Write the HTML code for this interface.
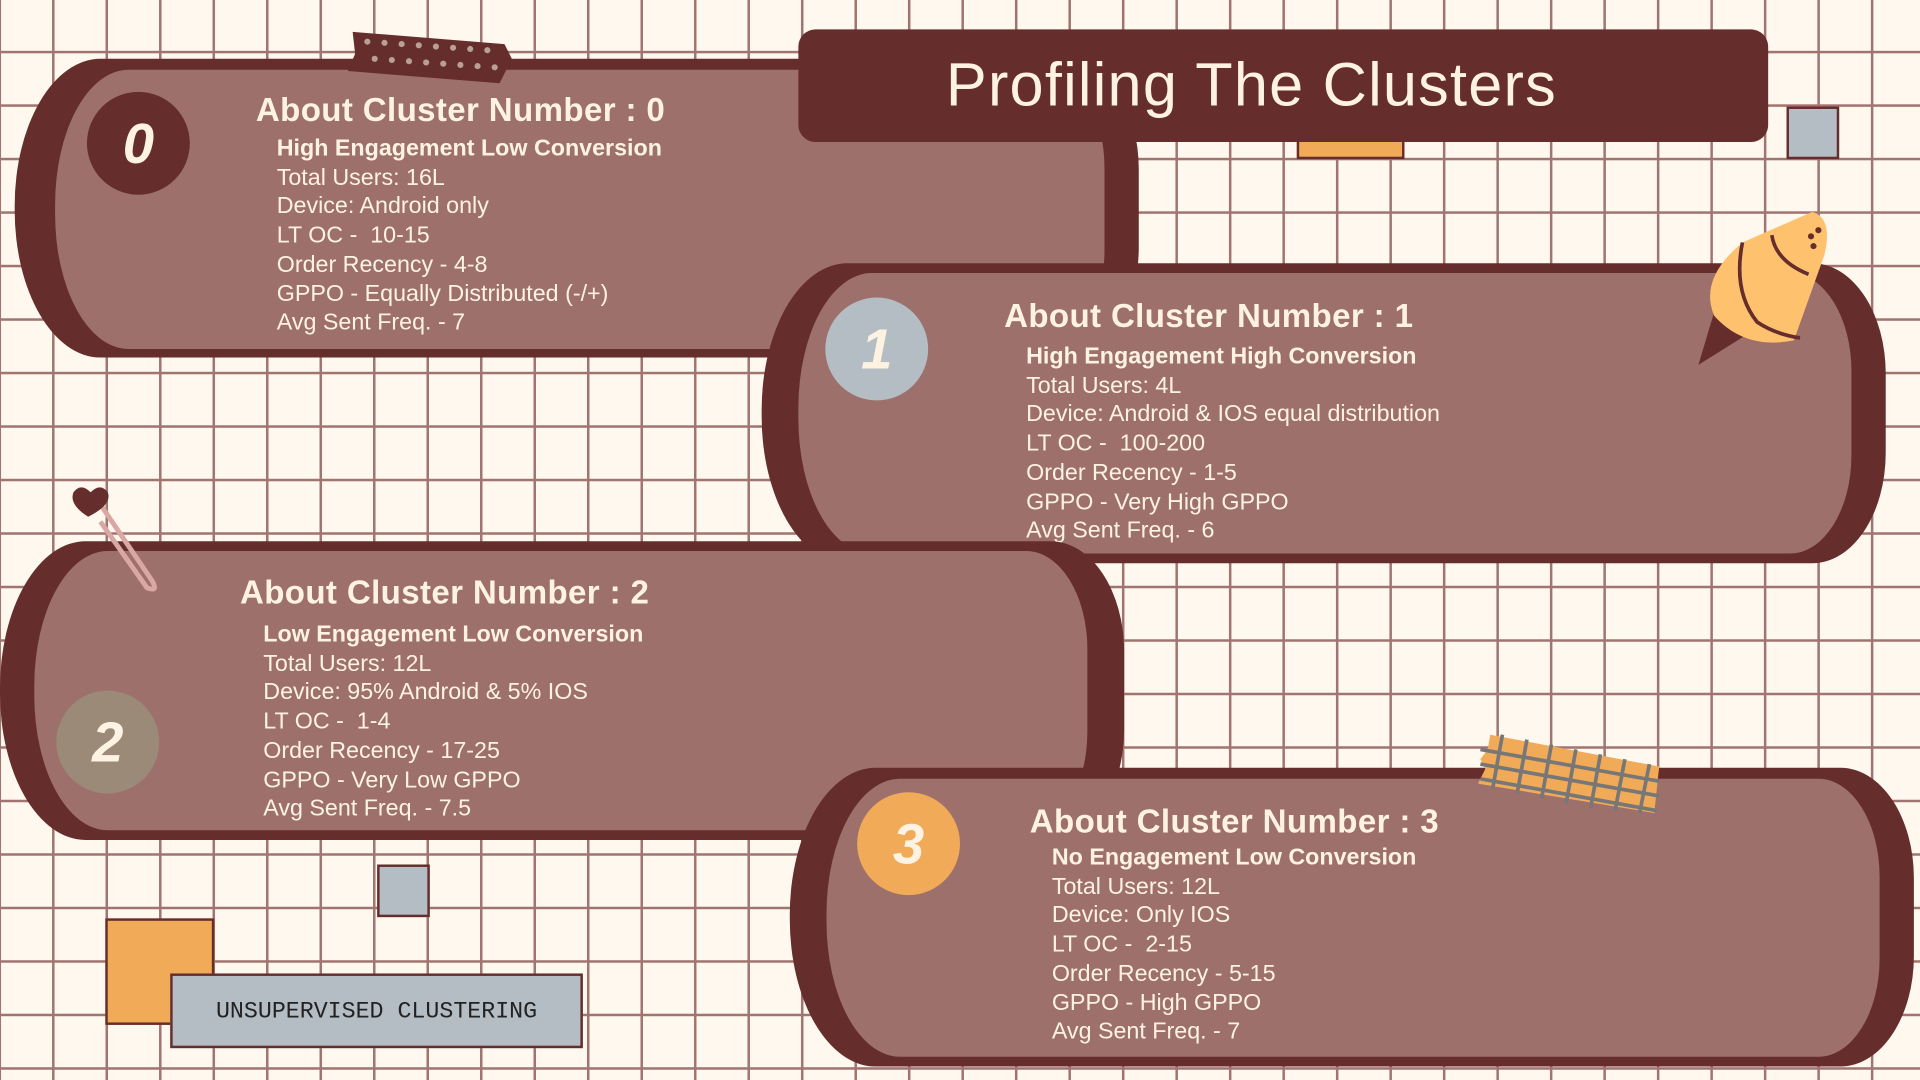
<!DOCTYPE html>
<html><head><meta charset="utf-8">
<style>
html,body{margin:0;padding:0;width:1920px;height:1080px;overflow:hidden;background:#fef8ee;}
#stage{position:absolute;left:0;top:0;width:1568px;height:882px;transform:scale(1.22449);transform-origin:0 0;
 background-color:#fef8ee;
 background-image:linear-gradient(to right,#a07470 2px,transparent 2px),linear-gradient(to bottom,#a07470 2px,transparent 2px);
 background-size:43.7px 43.7px;background-position:42.5px 41.5px;font-family:"Liberation Sans",sans-serif;}
.abs{position:absolute;}
.outer{position:absolute;background:#662d2d;border-radius:70px 60px 60px 70px/ 120px 90px 90px 120px;}
.inner{position:absolute;background:#9e706c;border-radius:60px 50px 50px 60px/110px 80px 80px 110px;}
.circle{position:absolute;width:84px;height:84px;border-radius:50%;display:flex;align-items:center;justify-content:center;font:italic bold 46px "Liberation Sans",sans-serif;color:#fef3e2;}
.title{position:absolute;color:#fef3e2;font:bold 27px "Liberation Sans",sans-serif;letter-spacing:0.3px;white-space:nowrap;}
.lines{position:absolute;color:#fef3e2;font-size:19px;line-height:23.7px;white-space:nowrap;}
.lines b{font-weight:bold;}
</style></head><body>
<div id="stage">

<div class="abs" style="left:1059px;top:108px;width:88px;height:22px;background:#f0aa58;border:2px solid #662d2d;box-sizing:border-box"></div>
<div class="abs" style="left:1459px;top:87px;width:43px;height:43px;background:#b4bcc4;border:2px solid #662d2d;box-sizing:border-box"></div>

<!-- card 0 -->
<div class="outer" style="left:12px;top:48px;width:918px;height:244px"></div>
<div class="inner" style="left:45px;top:57px;width:857px;height:228px"></div>
<div class="circle" style="left:71px;top:75px;background:#662d2d">0</div>
<div class="title" style="left:209px;top:75px">About Cluster Number : 0</div>
<div class="lines" style="left:226px;top:110px"><b>High Engagement Low Conversion</b><br>Total Users: 16L<br>Device: Android only<br>LT OC -&nbsp; 10-15<br>Order Recency - 4-8<br>GPPO - Equally Distributed (-/+)<br>Avg Sent Freq. - 7</div>

<svg class="abs" style="left:280px;top:22px" width="140" height="50"><polygon points="8,4 132,14 138,26 128,46 4,36 10,22" fill="#662d2d"/><g fill="#b8a094"><circle cx="20" cy="12" r="2.5"/><circle cx="34" cy="13" r="2.5"/><circle cx="48" cy="14" r="2.5"/><circle cx="62" cy="15" r="2.5"/><circle cx="76" cy="16" r="2.5"/><circle cx="90" cy="17" r="2.5"/><circle cx="104" cy="18" r="2.5"/><circle cx="118" cy="19" r="2.5"/><circle cx="26" cy="26" r="2.5"/><circle cx="40" cy="27" r="2.5"/><circle cx="54" cy="28" r="2.5"/><circle cx="68" cy="29" r="2.5"/><circle cx="82" cy="30" r="2.5"/><circle cx="96" cy="31" r="2.5"/><circle cx="110" cy="32" r="2.5"/><circle cx="124" cy="33" r="2.5"/></g></svg>

<!-- banner -->
<div class="abs" style="left:652px;top:24px;width:792px;height:92px;background:#662d2d;border-radius:14px"></div>
<div class="abs" style="left:652px;top:40px;width:740px;text-align:center;color:#fef3e2;font-size:50px;letter-spacing:1px">Profiling The Clusters</div>

<!-- card 1 -->
<div class="outer" style="left:622px;top:215px;width:918px;height:245px"></div>
<div class="inner" style="left:652px;top:223px;width:860px;height:229px"></div>
<div class="circle" style="left:674px;top:243px;background:#b4bcc4">1</div>
<div class="title" style="left:820px;top:243px">About Cluster Number : 1</div>
<div class="lines" style="left:838px;top:280px"><b>High Engagement High Conversion</b><br>Total Users: 4L<br>Device: Android &amp; IOS equal distribution<br>LT OC -&nbsp; 100-200<br>Order Recency - 1-5<br>GPPO - Very High GPPO<br>Avg Sent Freq. - 6</div>

<svg class="abs" style="left:1385px;top:168px" width="120" height="135"><polygon points="20,70 2,130 50,100" fill="#662d2d"/><path d="M38,30 L95,5 Q112,10 105,40 L80,110 Q40,118 15,90 Q2,60 38,30Z" fill="#fec16e"/><path d="M38,30 Q30,70 50,95 Q65,105 85,108" stroke="#662d2d" stroke-width="3" fill="none"/><path d="M62,24 Q65,45 92,56" stroke="#662d2d" stroke-width="3" fill="none"/><circle cx="100" cy="20" r="2.5" fill="#662d2d"/><circle cx="94" cy="25" r="2.5" fill="#662d2d"/><circle cx="96" cy="33" r="2.5" fill="#662d2d"/></svg>

<!-- card 2 -->
<div class="outer" style="left:0px;top:442px;width:918px;height:244px"></div>
<div class="inner" style="left:28px;top:450px;width:860px;height:228px"></div>
<div class="circle" style="left:46px;top:564px;background:#9b8a78">2</div>
<div class="title" style="left:196px;top:469px">About Cluster Number : 2</div>
<div class="lines" style="left:215px;top:507px"><b>Low Engagement Low Conversion</b><br>Total Users: 12L<br>Device: 95% Android &amp; 5% IOS<br>LT OC -&nbsp; 1-4<br>Order Recency - 17-25<br>GPPO - Very Low GPPO<br>Avg Sent Freq. - 7.5</div>

<svg class="abs" style="left:52px;top:392px" width="80" height="95"><path d="M30,20 L72,82 Q78,92 68,88 L30,34" stroke="#d9a8a4" stroke-width="4" fill="none"/><path d="M20,30 Q4,20 8,10 Q14,2 22,10 Q30,2 36,10 Q40,20 20,30Z" fill="#662d2d"/></svg>

<!-- card 3 -->
<div class="outer" style="left:645px;top:627px;width:918px;height:244px"></div>
<div class="inner" style="left:675px;top:636px;width:860px;height:227px"></div>
<div class="circle" style="left:700px;top:647px;background:#f0aa58">3</div>
<div class="title" style="left:841px;top:656px">About Cluster Number : 3</div>
<div class="lines" style="left:859px;top:689px"><b>No Engagement Low Conversion</b><br>Total Users: 12L<br>Device: Only IOS<br>LT OC -&nbsp; 2-15<br>Order Recency - 5-15<br>GPPO - High GPPO<br>Avg Sent Freq. - 7</div>

<svg class="abs" style="left:1205px;top:598px" width="155" height="70"><polygon points="12,2 150,28 146,66 2,42 8,30 4,22 10,14" fill="#f0aa58"/><g stroke="#777" stroke-width="3"><line x1="4" y1="14" x2="150" y2="40"/><line x1="4" y1="26" x2="150" y2="52"/><line x1="4" y1="38" x2="148" y2="64"/><line x1="22" y1="2" x2="14" y2="46"/><line x1="42" y1="6" x2="34" y2="50"/><line x1="62" y1="10" x2="54" y2="54"/><line x1="82" y1="14" x2="74" y2="58"/><line x1="102" y1="18" x2="94" y2="62"/><line x1="122" y1="22" x2="114" y2="64"/><line x1="142" y1="26" x2="134" y2="66"/></g></svg>

<div class="abs" style="left:308px;top:706px;width:43px;height:43px;background:#b4bcc4;border:2px solid #662d2d;box-sizing:border-box"></div>
<div class="abs" style="left:86px;top:750px;width:89px;height:87px;background:#f0aa58;border:2px solid #662d2d;box-sizing:border-box"></div>
<div class="abs" style="left:139px;top:795px;width:337px;height:61px;background:#b4bcc4;border:2px solid #662d2d;box-sizing:border-box;display:flex;align-items:center;justify-content:center;font:19px 'Liberation Mono',monospace;color:#222">UNSUPERVISED CLUSTERING</div>

</div>
</body></html>
